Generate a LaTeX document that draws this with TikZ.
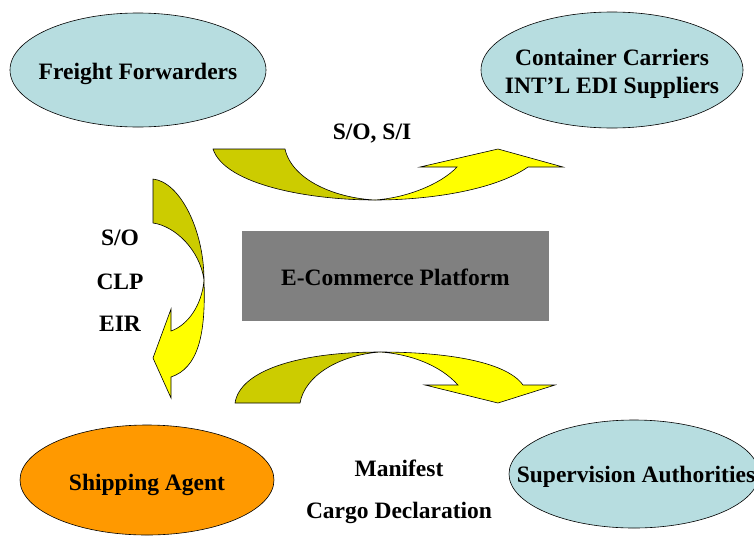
\documentclass[tikz,border=0pt]{standalone}
\usepackage{fontspec}
\setmainfont{Liberation Serif}
\usetikzlibrary{shapes.geometric}
\definecolor{partyblue}{RGB}{183,221,224}
\definecolor{agentorange}{RGB}{255,153,0}
\definecolor{platformgray}{RGB}{128,128,128}
\definecolor{arrowback}{RGB}{204,204,0}
\definecolor{arrowfront}{RGB}{255,255,0}
\tikzset{
  party/.style={ellipse, draw=black, line width=0.6pt, fill=partyblue, inner sep=0pt},
  boldtext/.style={font=\fontsize{23.5}{28}\selectfont\bfseries, inner sep=0pt, align=center},
  platform/.style={rectangle, fill=platformgray, inner sep=0pt},
  backface/.style={fill=arrowback, draw=black, line width=0.6pt, line join=round},
  frontface/.style={fill=arrowfront, draw=black, line width=0.6pt, line join=miter},
}
\begin{document}
\begin{tikzpicture}[x=1pt, y=-1pt]
\useasboundingbox (0,0) rectangle (754,536);

% parties
\node[party, minimum width=256pt, minimum height=114pt] (ff) at (138,70) {};
\node[party, minimum width=262pt, minimum height=116pt] (cc) at (612,70) {};
\node[party, fill=agentorange, minimum width=254pt, minimum height=110pt] (sa) at (147,480) {};
\node[party, minimum width=250pt, minimum height=108pt] (sv) at (634,474) {};
\node[boldtext] (fftext) at ([yshift=-4pt]ff.center) {Freight Forwarders};
\node[boldtext] (cctext) at ([yshift=-4pt]cc.center) {Container Carriers\\INT'L EDI Suppliers};
\node[boldtext] (satext) at ([yshift=-5pt]sa.center) {Shipping Agent};
\node[boldtext] (svtext) at ([xshift=2pt,yshift=-3pt]sv.center) {Supervision Authorities};

% central platform
\node[platform, minimum width=307pt, minimum height=90pt] (ec) at (395.5,276) {};
\node[boldtext] (ectext) at ([yshift=-1pt]ec.center) {E-Commerce Platform};

% document flows
\node[boldtext] (soi) at (372,134) {S/O, S/I};
\node[boldtext] (so) at (120,238) {S/O};
\node[boldtext] (clp) at (120,282) {CLP};
\node[boldtext] (eir) at (120,324) {EIR};
\node[boldtext] (mf) at (399,468) {Manifest};
\node[boldtext] (cd) at (399,513) {Cargo Declaration};

% curved arrow: forwarders -> carriers
\path[backface] (213,149) -- (285,149)
  .. controls (292,180) and (335,198) .. (375,200)
  .. controls (310,200) and (225,185) .. (213,149) -- cycle;
\path[frontface] (375,200)
  .. controls (430,200) and (495,190) .. (528,167)
  -- (563,167) -- (498,149) -- (420,167) -- (457,167)
  .. controls (440,185) and (405,198) .. (375,200) -- cycle;

% curved arrow: forwarders -> shipping agent
\path[backface] (153,179) -- (153,223)
  .. controls (175,226) and (200,250) .. (204,280)
  .. controls (204,230) and (180,182) .. (153,179) -- cycle;
\path[frontface] (204,280)
  .. controls (206,335) and (198,368) .. (171,377)
  -- (171,398) -- (153,358) -- (171,309) -- (171,331)
  .. controls (188,325) and (202,305) .. (204,280) -- cycle;

% curved arrow: shipping agent -> authorities
\path[backface] (235,403) -- (300,403)
  .. controls (305,375) and (340,355) .. (380,352)
  .. controls (300,352) and (240,370) .. (235,403) -- cycle;
\path[frontface] (380,352)
  .. controls (440,352) and (505,360) .. (523,385)
  -- (555,385) -- (498,403) -- (425,385) -- (458,385)
  .. controls (440,365) and (410,354) .. (380,352) -- cycle;
\end{tikzpicture}
\end{document}
